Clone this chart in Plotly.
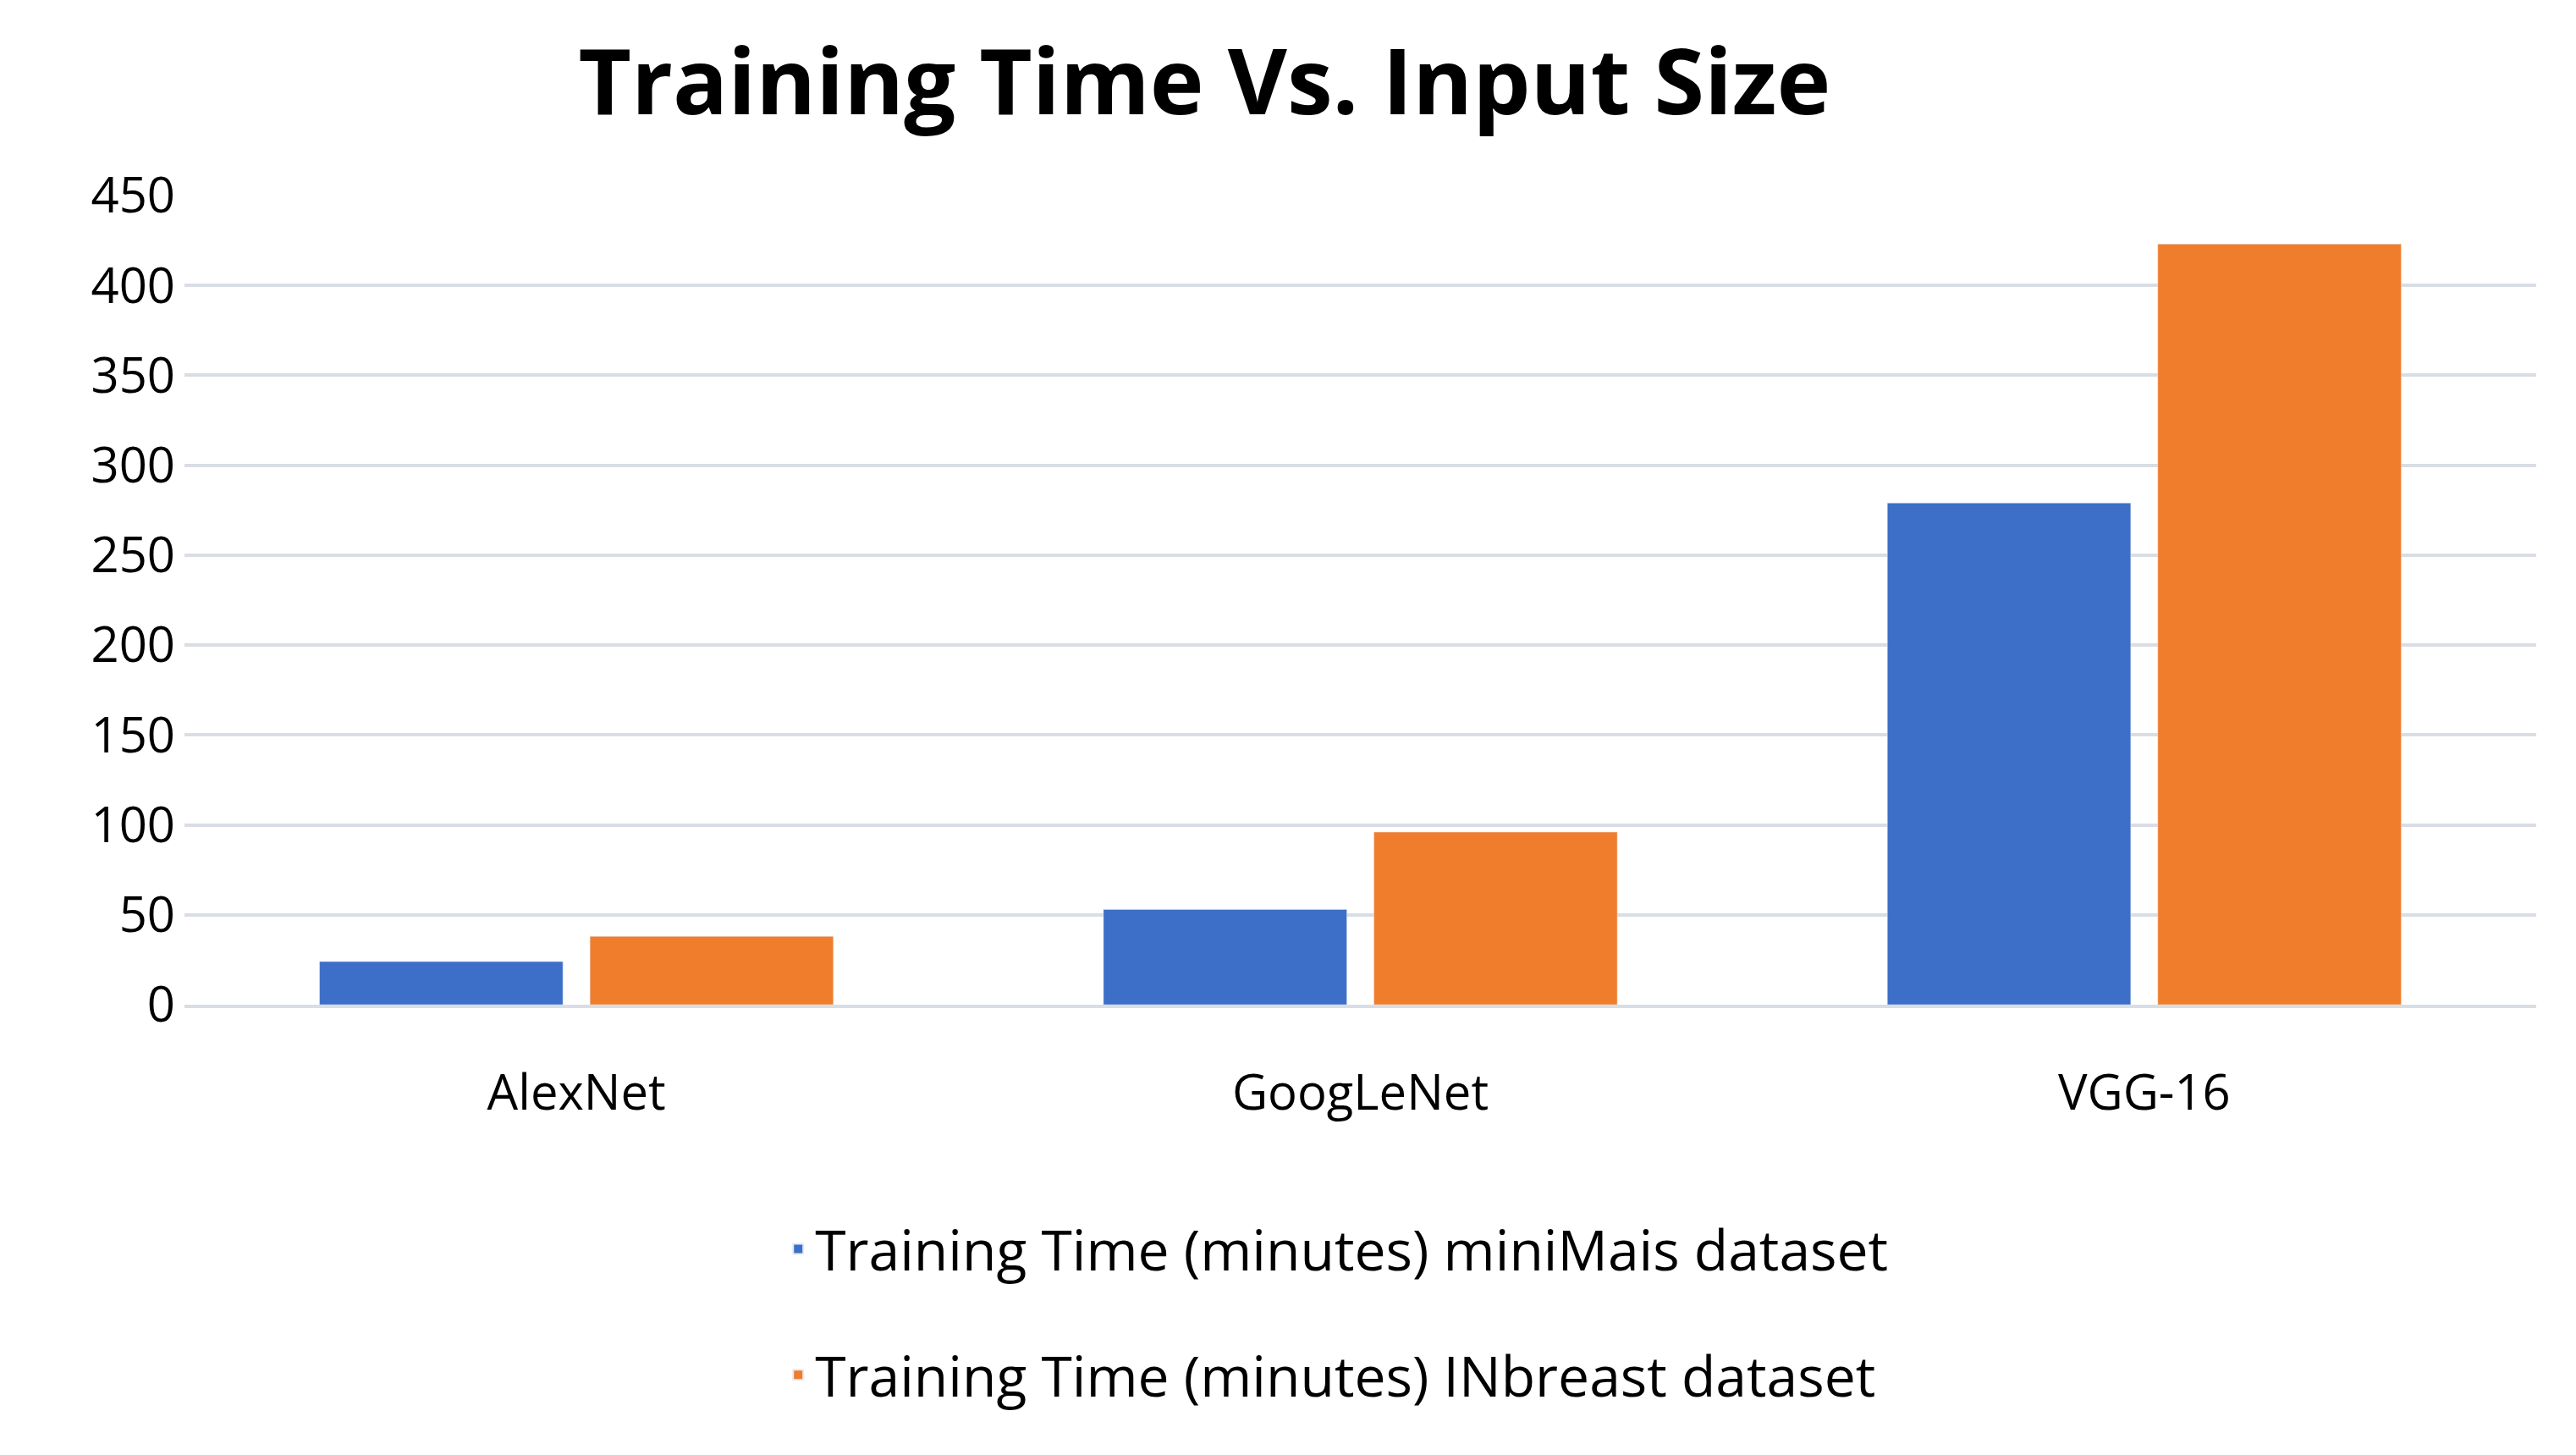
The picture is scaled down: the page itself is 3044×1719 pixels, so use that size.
import plotly.graph_objects as go

categories = ["AlexNet", "GoogLeNet", "VGG-16"]
mini_mias = [24, 53, 279]
inbreast = [38, 96, 423]
series_names = ["Training Time (minutes) miniMais dataset", "Training Time (minutes) INbreast dataset"]
tick_vals = [0, 50, 100, 150, 200, 250, 300, 350, 400, 450]

fig = go.Figure()
fig.add_trace(go.Bar(x=categories, y=mini_mias, name=series_names[0], marker_color="#3d6fc8", legendgroup="a"))
fig.add_trace(go.Bar(x=categories, y=inbreast, name=series_names[1], marker_color="#f07d2c", legendgroup="b"))

fig.update_layout(
    width=3044, height=1719,
    paper_bgcolor="white", plot_bgcolor="white",
    font=dict(family="Open Sans, sans-serif", color="black"),
    title=dict(text="<b>Training Time Vs. Input Size</b>", x=0.465, xanchor="center", y=0.97, yanchor="top",
               font=dict(size=108, family="Open Sans, sans-serif")),
    barmode="group", bargap=0.31, bargroupgap=0.1,
    margin=dict(l=210, r=55, t=223, b=540),
    legend=dict(orientation="v", x=0.49, xanchor="center", y=-0.25, yanchor="top",
                font=dict(size=66), itemsizing="constant", tracegroupgap=60),
    showlegend=True,
)
fig.update_yaxes(range=[0, 450], tickvals=tick_vals, showgrid=True, gridcolor="#d9dde4", gridwidth=4,
                 tickfont=dict(size=58), ticks="", zeroline=False, ticklabelstandoff=10)
fig.update_xaxes(tickfont=dict(size=58), showline=True, linecolor="#d9dde4", linewidth=4, ticks="",
                 ticklabelstandoff=50)

fig.write_html("out.html")
